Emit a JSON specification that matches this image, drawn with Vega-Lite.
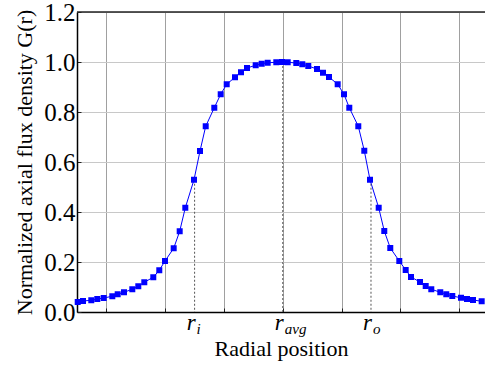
{
  "$schema": "https://vega.github.io/schema/vega-lite/v6.json",
  "width": 408,
  "height": 300,
  "autosize": "none",
  "padding": {"left": 77, "top": 12, "right": 0, "bottom": 58},
  "background": "white",
  "config": {
    "view": {"stroke": null},
    "font": "Liberation Serif"
  },
  "datasets": {
    "curve": [
      {"x": 0.024, "g": 0.040}, {"x": 0.204, "g": 0.044}, {"x": 0.486, "g": 0.047}, {"x": 0.690, "g": 0.052},
      {"x": 0.908, "g": 0.056}, {"x": 1.201, "g": 0.063}, {"x": 1.384, "g": 0.071}, {"x": 1.599, "g": 0.079},
      {"x": 1.881, "g": 0.091}, {"x": 2.085, "g": 0.103}, {"x": 2.289, "g": 0.119}, {"x": 2.595, "g": 0.139},
      {"x": 2.799, "g": 0.167}, {"x": 2.993, "g": 0.204}, {"x": 3.289, "g": 0.255}, {"x": 3.493, "g": 0.323},
      {"x": 3.684, "g": 0.417}, {"x": 3.980, "g": 0.529}, {"x": 4.184, "g": 0.644}, {"x": 4.378, "g": 0.743},
      {"x": 4.670, "g": 0.817}, {"x": 4.888, "g": 0.871}, {"x": 5.092, "g": 0.911}, {"x": 5.374, "g": 0.939},
      {"x": 5.578, "g": 0.959}, {"x": 5.782, "g": 0.976}, {"x": 6.078, "g": 0.987}, {"x": 6.282, "g": 0.993},
      {"x": 6.486, "g": 0.997}, {"x": 6.779, "g": 0.999}, {"x": 6.973, "g": 1.000}, {"x": 7.167, "g": 0.999},
      {"x": 7.459, "g": 0.996}, {"x": 7.663, "g": 0.991}, {"x": 7.867, "g": 0.984}, {"x": 8.163, "g": 0.972},
      {"x": 8.367, "g": 0.957}, {"x": 8.571, "g": 0.940}, {"x": 8.867, "g": 0.911}, {"x": 9.082, "g": 0.871},
      {"x": 9.262, "g": 0.817}, {"x": 9.568, "g": 0.743}, {"x": 9.772, "g": 0.645}, {"x": 9.966, "g": 0.529},
      {"x": 10.262, "g": 0.417}, {"x": 10.452, "g": 0.324}, {"x": 10.656, "g": 0.256}, {"x": 10.963, "g": 0.204},
      {"x": 11.180, "g": 0.168}, {"x": 11.361, "g": 0.140}, {"x": 11.667, "g": 0.120}, {"x": 11.861, "g": 0.104},
      {"x": 12.051, "g": 0.091}, {"x": 12.357, "g": 0.079}, {"x": 12.561, "g": 0.071}, {"x": 12.765, "g": 0.064},
      {"x": 13.061, "g": 0.057}, {"x": 13.265, "g": 0.052}, {"x": 13.469, "g": 0.048}, {"x": 13.765, "g": 0.043}
    ],
    "marks": [
      {"x": 4, "g": 0.529, "sub": "i"},
      {"x": 7, "g": 1.0, "sub": "avg"},
      {"x": 10, "g": 0.529, "sub": "o"}
    ],
    "frame": [{"g": 1.2}]
  },
  "layer": [
    {
      "data": {"name": "curve"},
      "mark": {"type": "line", "color": "#0000ff", "strokeWidth": 1},
      "encoding": {
        "x": {
          "field": "x", "type": "quantitative",
          "scale": {"domain": [0, 13.878], "nice": false, "zero": false},
          "axis": {
            "values": [1, 2, 3, 4, 5, 6, 7, 8, 9, 10, 11, 12, 13],
            "labels": false,
            "title": "Radial position",
            "titleFont": "Liberation Serif", "titleFontSize": 22, "titleFontWeight": "normal", "titleColor": "black",
            "titlePadding": 26,
            "domainColor": "black", "domainWidth": 1.5,
            "tickColor": "#222222", "tickSize": -4, "tickWidth": 1,
            "grid": true, "gridColor": "#a0a0a0", "gridWidth": 1
          }
        },
        "y": {
          "field": "g", "type": "quantitative",
          "scale": {"domain": [0, 1.2], "nice": false},
          "axis": {
            "values": [0, 0.1, 0.2, 0.3, 0.4, 0.5, 0.6, 0.7, 0.8, 0.9, 1.0, 1.1, 1.2],
            "labelExpr": "round(datum.value*10)%2==0 ? format(datum.value, '.1f') : ''",
            "labelFont": "Liberation Serif", "labelFontSize": 25, "labelColor": "black", "labelPadding": 6,
            "title": "Normalized axial flux density G(r)",
            "titleFont": "Liberation Serif", "titleFontSize": 22, "titleFontWeight": "normal", "titleColor": "black",
            "titlePadding": 7,
            "domainColor": "black", "domainWidth": 1.5,
            "tickColor": "#222222", "tickSize": -4, "tickWidth": 1,
            "grid": true, "gridColor": "#c8c8c8", "gridWidth": 1
          }
        }
      }
    },
    {
      "data": {"name": "marks"},
      "mark": {"type": "rule", "color": "#555555", "strokeWidth": 1, "strokeDash": [2, 2]},
      "encoding": {
        "x": {"field": "x", "type": "quantitative"},
        "y": {"field": "g", "type": "quantitative"},
        "y2": {"datum": 0}
      }
    },
    {
      "data": {"name": "frame"},
      "mark": {"type": "rule", "color": "#222222", "strokeWidth": 1.5},
      "encoding": {
        "y": {"field": "g", "type": "quantitative"}
      }
    },
    {
      "data": {"name": "curve"},
      "mark": {"type": "point", "shape": "square", "filled": true, "size": 36, "color": "#0000ff", "opacity": 1},
      "encoding": {
        "x": {"field": "x", "type": "quantitative"},
        "y": {"field": "g", "type": "quantitative"}
      }
    },
    {
      "data": {"name": "marks"},
      "mark": {"type": "text", "text": "r", "font": "Liberation Serif", "fontStyle": "italic", "fontSize": 23, "align": "right", "baseline": "alphabetic", "dx": 1, "dy": 18, "color": "black"},
      "encoding": {
        "x": {"field": "x", "type": "quantitative"},
        "y": {"datum": 0, "type": "quantitative"}
      }
    },
    {
      "data": {"name": "marks"},
      "mark": {"type": "text", "font": "Liberation Serif", "fontStyle": "italic", "fontSize": 15, "align": "left", "baseline": "alphabetic", "dx": 2, "dy": 22, "color": "black"},
      "encoding": {
        "x": {"field": "x", "type": "quantitative"},
        "y": {"datum": 0, "type": "quantitative"},
        "text": {"field": "sub"}
      }
    }
  ]
}
